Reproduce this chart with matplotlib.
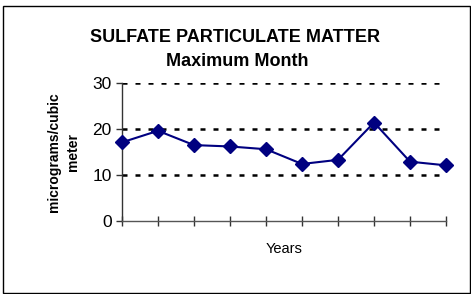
import matplotlib
matplotlib.use("Agg")
import matplotlib.pyplot as plt
from matplotlib.patches import Rectangle

plt.rcParams['font.family'] = ['Liberation Sans', 'DejaVu Sans']

years_idx = list(range(10))
values = [17.1, 19.6, 16.5, 16.2, 15.6, 12.4, 13.3, 21.4, 12.9, 12.1]
yticks = [0, 10, 20, 30]

fig = plt.figure(figsize=(4.71, 2.94), dpi=100)
ax = fig.add_axes([0.259, 0.248, 0.688, 0.470])

for y in yticks[1:]:
    ax.axhline(y, color='black', lw=1.8, linestyle=(0, (2, 3.2)), zorder=1)

ax.plot(years_idx, values, color='#000080', lw=1.5, marker='D', markersize=7,
        markerfacecolor='#000080', markeredgecolor='#000080', zorder=3, clip_on=False)

ax.set_xlim(0, 9)
ax.set_ylim(0, 30)
ax.set_yticks(yticks)
ax.set_xticks(years_idx)
ax.set_xticklabels([])
ax.tick_params(axis='y', direction='out', length=4.5, width=1, color='#333333',
               labelsize=12.5, pad=3)
ax.tick_params(axis='x', direction='inout', length=7, width=1, color='#333333')
for s in ['top', 'right']:
    ax.spines[s].set_visible(False)
ax.spines['left'].set_color('#333333')
ax.spines['bottom'].set_color('#555555')
ax.spines['left'].set_linewidth(1)
ax.spines['bottom'].set_linewidth(1)

ax.set_xlabel('Years', fontsize=10.5, labelpad=8)
ax.set_ylabel('micrograms/cubic\nmeter', fontsize=10, fontweight='bold', labelpad=9,
              linespacing=1.45)

fig.text(0.5, 1 - 37/294, 'SULFATE PARTICULATE MATTER', ha='center', va='center',
         fontsize=13, fontweight='bold')
fig.text(0.503, 1 - 61/294, 'Maximum Month', ha='center', va='center',
         fontsize=13, fontweight='bold')

fig.patches.append(Rectangle((3/471, 1 - 293/294), 467/471, 287/294,
                             transform=fig.transFigure, fill=False,
                             edgecolor='black', lw=1))

fig.savefig('out.png', dpi=100)
